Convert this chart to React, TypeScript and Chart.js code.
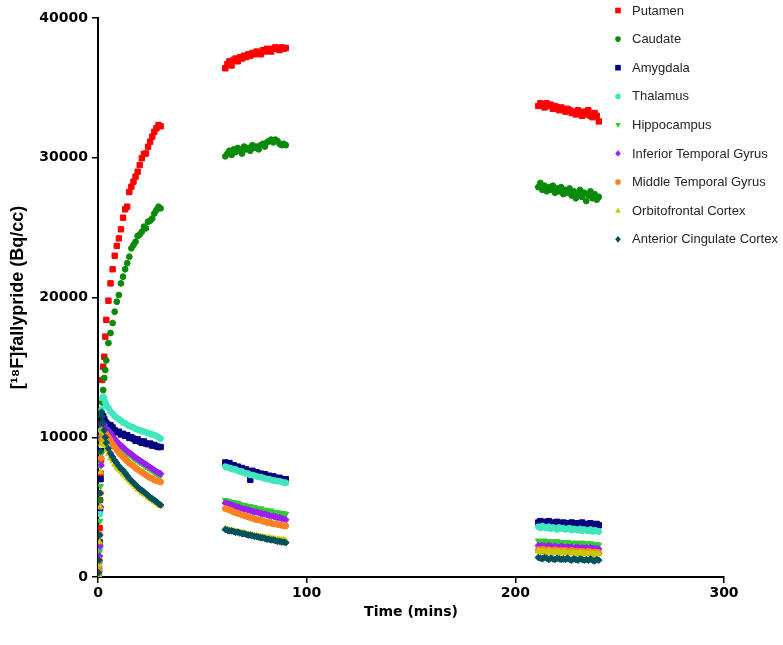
import { useEffect, useRef } from 'react';
import { Chart, registerables } from 'chart.js';

Chart.register(...registerables);

// Frame mid-times (minutes)
const TIMES = [
  0.25, 0.5, 0.75, 1, 1.25, 1.5, 1.75, 2, 2.5, 3, 3.5, 4,
  5, 6, 7, 8, 9, 10, 11, 12, 13, 14, 15, 16, 17, 18, 19, 20, 21, 22, 23, 24, 25, 26, 27, 28, 29, 30,
  61, 62, 63, 64, 65, 66, 67, 68, 69, 70, 71, 72, 73, 74, 75, 76, 77, 78, 79, 80, 81, 82, 83, 84, 85, 86, 87, 88, 89, 90,
  211, 212, 213, 214, 215, 216, 217, 218, 219, 220, 221, 222, 223, 224, 225, 226, 227, 228, 229, 230, 231, 232, 233, 234, 235, 236, 237, 238, 239, 240,
];

const PUTAMEN = [
  200, 1200, 3500, 5500, 7400, 8400, 11000, 14100, 15050, 15760, 17200, 18400,
  19770, 21010, 22020, 22990, 23690, 24230, 24880, 25710, 26310, 26500, 27550, 27930, 28290, 28650, 29000, 29480, 29960, 30270, 30310, 30790, 31150, 31510, 31860, 32110, 32340, 32250,
  36400, 36700, 36900, 36600, 37000, 37100, 36900, 37200, 37100, 37300, 37200, 37400, 37300, 37500, 37400, 37600, 37500, 37400, 37700, 37600, 37800, 37700, 37600, 37800, 37900, 37800, 37700, 37900, 37800, 37850,
  33700, 33900, 33800, 33600, 33900, 33700, 33800, 33500, 33700, 33600, 33400, 33600, 33500, 33300, 33500, 33400, 33200, 33300, 33100, 33400, 33200, 33000, 33300, 33100, 33400, 33000, 32900, 33200, 33000, 32600,
];

const CAUDATE = [
  200, 1000, 3000, 5500, 8000, 10000, 11500, 12500, 13380, 14240, 14810, 15500,
  16740, 17460, 18170, 18980, 19700, 20180, 21010, 21490, 22020, 22450, 22920, 23520, 23760, 23990, 24400, 24500, 24710, 25070, 24950, 25420, 25500, 25660, 26020, 26260, 26500, 26380,
  30100, 30300, 30500, 30200, 30600, 30400, 30700, 30500, 30300, 30800, 30600, 30700, 30500, 30900, 30700, 30800, 30600, 30900, 31000, 30800, 31100, 31200, 31300, 31100, 31300, 31200, 31000, 30900, 31000, 30900,
  27900, 28200, 27700, 28000, 27600, 27900, 27700, 28000, 27500, 27800, 27600, 27900, 27400, 27700, 27500, 27800, 27300, 27600, 27100, 27400, 27700, 27200, 27500, 26900, 27300, 27600, 27100, 27400, 27000, 27200,
];

const AMYGDALA = [
  200, 600, 2500, 4900, 7000, 9000, 10500, 11200, 11500, 11300, 11100, 11000,
  10900, 10850, 10700, 10500, 10350, 10400, 10200, 10250, 10100, 10150, 9950, 10000, 9900, 9750, 9850, 9700, 9600, 9700, 9550, 9500, 9550, 9400, 9450, 9350, 9300, 9300,
  8200, 8100, 8150, 7900, 8000, 7850, 7900, 7750, 7800, 7650, 7700, 7550, 6950, 7600, 7450, 7500, 7350, 7400, 7300, 7350, 7200, 7250, 7150, 7200, 7100, 7050, 7100, 7000, 6950, 7000,
  3900, 4000, 3800, 3950, 3850, 4000, 3750, 3900, 3800, 3950, 3700, 3850, 3900, 3750, 3850, 3700, 3900, 3800, 3650, 3850, 3750, 3900, 3700, 3800, 3650, 3850, 3750, 3600, 3800, 3700,
];

const THALAMUS = [
  300, 800, 2000, 4500, 8000, 10500, 12000, 12800, 12900, 12800, 12500, 12300,
  12100, 11850, 11700, 11500, 11400, 11300, 11200, 11050, 11000, 10900, 10800, 10750, 10700, 10600, 10550, 10500, 10450, 10400, 10350, 10300, 10250, 10200, 10150, 10100, 10000, 9900,
  7900, 7850, 7800, 7750, 7700, 7700, 7600, 7550, 7550, 7450, 7400, 7400, 7300, 7300, 7250, 7200, 7150, 7150, 7100, 7050, 7000, 7000, 6950, 6900, 6900, 6850, 6850, 6800, 6750, 6750,
  3600, 3500, 3650, 3550, 3500, 3600, 3450, 3550, 3500, 3400, 3550, 3450, 3500, 3400, 3450, 3500, 3350, 3450, 3400, 3350, 3450, 3300, 3400, 3350, 3300, 3400, 3250, 3350, 3300, 3250,
];

const HIPPOCAMPUS = [
  100, 500, 1800, 4000, 6500, 8800, 10000, 10500, 10700, 10600, 10500, 10300,
  10300, 10100, 9900, 9700, 9550, 9400, 9250, 9150, 9000, 8850, 8750, 8650, 8500, 8400, 8300, 8200, 8100, 8000, 7900, 7800, 7700, 7600, 7500, 7400, 7300, 7250,
  5500, 5450, 5400, 5350, 5350, 5250, 5300, 5200, 5150, 5150, 5100, 5050, 5050, 4950, 5000, 4900, 4850, 4900, 4800, 4800, 4750, 4700, 4750, 4650, 4650, 4600, 4600, 4550, 4550, 4500,
  2600, 2550, 2500, 2600, 2500, 2450, 2550, 2500, 2450, 2550, 2400, 2500, 2450, 2400, 2500, 2400, 2450, 2350, 2450, 2400, 2350, 2450, 2350, 2400, 2300, 2400, 2350, 2300, 2350, 2300,
];

const INFERIOR_TEMPORAL = [
  100, 400, 1500, 2200, 5000, 8000, 10000, 10800, 11000, 10900, 10700, 10600,
  10500, 10300, 10100, 9900, 9700, 9550, 9400, 9300, 9150, 9000, 8900, 8800, 8650, 8550, 8450, 8350, 8250, 8150, 8050, 7950, 7850, 7750, 7650, 7550, 7450, 7400,
  5300, 5250, 5200, 5150, 5100, 5050, 5000, 4950, 4900, 4850, 4850, 4800, 4750, 4700, 4650, 4650, 4600, 4550, 4500, 4500, 4450, 4400, 4350, 4350, 4300, 4250, 4250, 4200, 4150, 4100,
  2250, 2200, 2250, 2200, 2150, 2250, 2200, 2150, 2200, 2150, 2100, 2200, 2150, 2100, 2150, 2100, 2150, 2050, 2100, 2150, 2050, 2100, 2050, 2100, 2000, 2100, 2050, 2000, 2050, 2000,
];

const MIDDLE_TEMPORAL = [
  100, 500, 1200, 3000, 6000, 8500, 9800, 10200, 10400, 10400, 10300, 10200,
  10000, 9800, 9500, 9300, 9100, 8900, 8750, 8600, 8450, 8300, 8150, 8050, 7950, 7800, 7700, 7600, 7500, 7400, 7300, 7200, 7100, 7050, 6950, 6900, 6850, 6800,
  4900, 4850, 4800, 4750, 4650, 4600, 4550, 4500, 4450, 4400, 4350, 4300, 4250, 4200, 4150, 4100, 4100, 4050, 4000, 3950, 3900, 3900, 3850, 3800, 3800, 3750, 3750, 3700, 3650, 3650,
  1950, 1900, 2000, 1950, 1900, 1950, 1900, 1850, 1950, 1900, 1850, 1900, 1850, 1900, 1850, 1800, 1900, 1850, 1800, 1850, 1800, 1850, 1800, 1750, 1850, 1800, 1750, 1800, 1750, 1750,
];

const ORBITOFRONTAL = [
  100, 900, 2500, 5000, 7500, 9500, 10500, 10400, 10000, 9700, 9400, 9100,
  8800, 8500, 8300, 8050, 7850, 7700, 7550, 7400, 7250, 7050, 6900, 6750, 6600, 6450, 6300, 6200, 6050, 5950, 5850, 5700, 5600, 5500, 5400, 5300, 5200, 5100,
  3450, 3400, 3350, 3350, 3300, 3250, 3250, 3200, 3150, 3150, 3100, 3050, 3050, 3000, 2950, 2950, 2900, 2900, 2850, 2850, 2800, 2800, 2750, 2750, 2700, 2700, 2700, 2650, 2650, 2600,
  1850, 1800, 1850, 1800, 1750, 1850, 1800, 1750, 1800, 1750, 1800, 1700, 1800, 1750, 1700, 1750, 1700, 1750, 1700, 1650, 1750, 1700, 1650, 1700, 1650, 1700, 1650, 1600, 1700, 1650,
];

const ANTERIOR_CINGULATE = [
  300, 1200, 3000, 6000, 9000, 11000, 11800, 11500, 11000, 10500, 10000, 9600,
  9200, 8850, 8600, 8350, 8150, 7950, 7750, 7650, 7450, 7250, 7050, 6900, 6750, 6600, 6450, 6300, 6200, 6100, 5950, 5850, 5700, 5600, 5500, 5400, 5250, 5150,
  3400, 3350, 3300, 3300, 3250, 3200, 3200, 3150, 3100, 3100, 3050, 3000, 3000, 2950, 2900, 2900, 2850, 2800, 2800, 2750, 2700, 2700, 2650, 2650, 2600, 2550, 2550, 2500, 2500, 2450,
  1400, 1350, 1300, 1400, 1350, 1250, 1350, 1300, 1250, 1350, 1300, 1250, 1300, 1250, 1350, 1250, 1200, 1300, 1250, 1200, 1300, 1250, 1200, 1250, 1200, 1300, 1200, 1150, 1250, 1200,
];

const SERIES_NAMES = [
  'Putamen',
  'Caudate',
  'Amygdala',
  'Thalamus',
  'Hippocampus',
  'Inferior Temporal Gyrus',
  'Middle Temporal Gyrus',
  'Orbitofrontal Cortex',
  'Anterior Cingulate Cortex',
];
const SERIES_VALUES = [
  PUTAMEN, CAUDATE, AMYGDALA, THALAMUS, HIPPOCAMPUS,
  INFERIOR_TEMPORAL, MIDDLE_TEMPORAL, ORBITOFRONTAL, ANTERIOR_CINGULATE,
];
const COLORS = [
  '#ff0000', '#0a8a0a', '#000080', '#40e6bd', '#33cc33',
  '#9b1ff0', '#ff8020', '#c8c800', '#00505e',
];
const SHAPES = ['rect', 'circle', 'rect', 'circle', 'triangle', 'rectRot', 'circle', 'triangle', 'rectRot'];
const ROTATIONS = [0, 0, 0, 0, 180, 0, 0, 0, 0];
const RADII = [3.8, 2.9, 3.8, 2.9, 3.4, 3.3, 2.9, 3.4, 3.3];

const X_TITLE = 'Time (mins)';
const Y_TITLE = '[\u00B9\u2078F]fallypride (Bq/cc)';

function drawMarker(ctx: CanvasRenderingContext2D, shape: string, x: number, y: number, r: number, rot: number) {
  ctx.beginPath();
  if (shape === 'rect') {
    ctx.rect(x - r, y - r, 2 * r, 2 * r);
  } else if (shape === 'circle') {
    ctx.arc(x, y, r, 0, Math.PI * 2);
  } else if (shape === 'triangle') {
    const s = rot === 180 ? -1 : 1;
    ctx.moveTo(x, y - s * r * 1.1);
    ctx.lineTo(x + r, y + s * r * 0.7);
    ctx.lineTo(x - r, y + s * r * 0.7);
    ctx.closePath();
  } else {
    ctx.moveTo(x, y - r * 1.2);
    ctx.lineTo(x + r, y);
    ctx.lineTo(x, y + r * 1.2);
    ctx.lineTo(x - r, y);
    ctx.closePath();
  }
  ctx.fill();
}

const sideLegend = {
  id: 'sideLegend',
  afterDraw(chart: any) {
    const ctx: CanvasRenderingContext2D = chart.ctx;
    ctx.save();
    chart.data.datasets.forEach((ds: any, i: number) => {
      const y = 10.5 + i * 28.6;
      ctx.fillStyle = COLORS[i];
      drawMarker(ctx, SHAPES[i], 618, y, 2.8, ROTATIONS[i]);
      ctx.fillStyle = '#262626';
      ctx.font = '13px "Liberation Sans", Arial, sans-serif';
      ctx.textBaseline = 'middle';
      ctx.textAlign = 'left';
      ctx.fillText(ds.label, 632, y + 0.5);
    });
    ctx.restore();
  },
};

export default function App() {
  const ref = useRef<HTMLCanvasElement | null>(null);

  useEffect(() => {
    if (!ref.current) return;
    const datasets = SERIES_NAMES.map((name, i) => ({
      label: name,
      data: TIMES.map((t, j) => ({ x: t, y: SERIES_VALUES[i][j] })),
      backgroundColor: COLORS[i],
      borderColor: COLORS[i],
      borderWidth: 1,
      pointStyle: SHAPES[i],
      pointRotation: ROTATIONS[i],
      pointRadius: RADII[i],
      pointHoverRadius: RADII[i],
      order: -i,
    }));

    const tickFont = { family: '"DejaVu Sans", sans-serif', size: 14, weight: 'bold' as const };

    const chart = new Chart(ref.current, {
      type: 'scatter',
      data: { datasets },
      plugins: [sideLegend],
      options: {
        responsive: false,
        animation: false,
        layout: { padding: { left: 0, top: 18, right: 59, bottom: 0 } },
        plugins: {
          legend: { display: false },
          tooltip: { enabled: false },
        },
        scales: {
          x: {
            type: 'linear',
            min: 0,
            max: 300,
            ticks: {
              stepSize: 100,
              color: '#000',
              font: tickFont,
              padding: 2,
              callback: (v: any) => String(v),
            },
            grid: {
              display: true,
              drawOnChartArea: false,
              drawTicks: true,
              tickLength: 6,
              color: '#000',
              lineWidth: 1.5,
            },
            border: { display: true, color: '#000', width: 2 },
            title: {
              display: true,
              text: X_TITLE,
              color: '#000',
              font: { family: '"DejaVu Sans", sans-serif', size: 14, weight: 'bold' },
              padding: { top: 0, bottom: 24 },
            },
            afterFit: (scale: any) => {
              scale.height = 68;
            },
          },
          y: {
            type: 'linear',
            min: 0,
            max: 40000,
            ticks: {
              stepSize: 10000,
              color: '#000',
              font: tickFont,
              padding: 4,
              callback: (v: any) => String(v),
            },
            grid: {
              display: true,
              drawOnChartArea: false,
              drawTicks: true,
              tickLength: 6,
              color: '#000',
              lineWidth: 1.5,
            },
            border: { display: true, color: '#000', width: 2 },
            title: {
              display: true,
              text: Y_TITLE,
              color: '#000',
              font: { family: '"Liberation Sans", Arial, sans-serif', size: 18, weight: 'bold' },
              padding: { top: 7, bottom: 0 },
            },
            afterFit: (scale: any) => {
              scale.width = 98;
            },
          },
        },
      },
    });
    return () => chart.destroy();
  }, []);

  return (
    <div style={{ position: 'absolute', left: 0, top: 0, width: 783, height: 645, background: '#fff' }}>
      <canvas ref={ref} width={783} height={645} style={{ display: 'block' }} />
    </div>
  );
}
